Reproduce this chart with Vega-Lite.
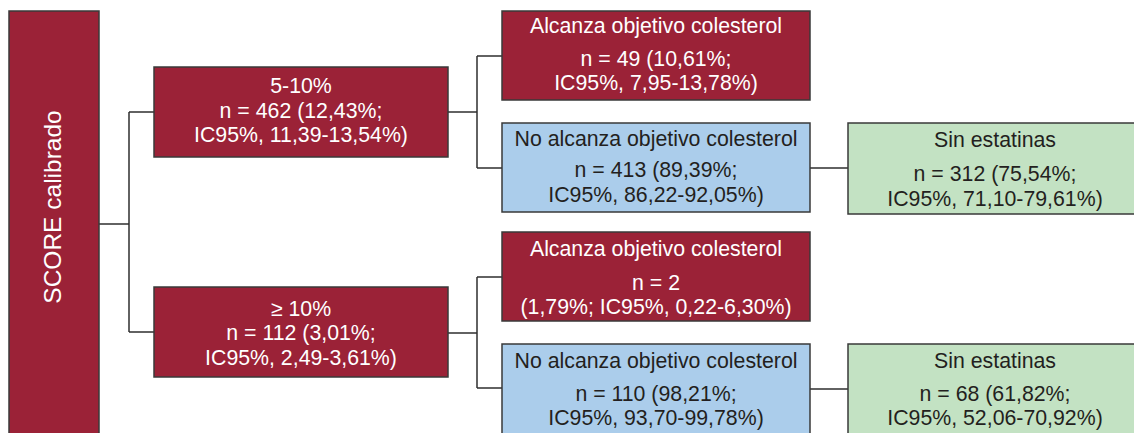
{
  "$schema": "https://vega.github.io/schema/vega-lite/v6.json",
  "width": 1134,
  "height": 433,
  "autosize": "none",
  "padding": 0,
  "background": "white",
  "config": {"view": {"stroke": null}},
  "datasets": {
    "cajas": [
      {"id": "score", "x1": 9, "x2": 99, "y1": 11, "y2": 440, "tipo": "rojo"},
      {"id": "r510", "x1": 154, "x2": 448, "y1": 67, "y2": 157, "tipo": "rojo"},
      {"id": "r10", "x1": 154, "x2": 448, "y1": 287, "y2": 377, "tipo": "rojo"},
      {"id": "alc1", "x1": 502, "x2": 810, "y1": 11, "y2": 100, "tipo": "rojo"},
      {"id": "noalc1", "x1": 502, "x2": 810, "y1": 123, "y2": 212, "tipo": "azul"},
      {"id": "sin1", "x1": 848, "x2": 1142, "y1": 123, "y2": 214, "tipo": "verde"},
      {"id": "alc2", "x1": 502, "x2": 810, "y1": 232, "y2": 321, "tipo": "rojo"},
      {"id": "noalc2", "x1": 502, "x2": 810, "y1": 344, "y2": 440, "tipo": "azul"},
      {"id": "sin2", "x1": 848, "x2": 1142, "y1": 344, "y2": 440, "tipo": "verde"}
    ],
    "conectores": [
      {"x1": 99, "x2": 129, "y1": 224, "y2": 224},
      {"x1": 129, "x2": 129, "y1": 112, "y2": 332},
      {"x1": 129, "x2": 154, "y1": 112, "y2": 112},
      {"x1": 129, "x2": 154, "y1": 332, "y2": 332},
      {"x1": 448, "x2": 477, "y1": 112, "y2": 112},
      {"x1": 477, "x2": 477, "y1": 56, "y2": 168},
      {"x1": 477, "x2": 502, "y1": 56, "y2": 56},
      {"x1": 477, "x2": 502, "y1": 168, "y2": 168},
      {"x1": 448, "x2": 477, "y1": 333, "y2": 333},
      {"x1": 477, "x2": 477, "y1": 277, "y2": 388},
      {"x1": 477, "x2": 502, "y1": 277, "y2": 277},
      {"x1": 477, "x2": 502, "y1": 388, "y2": 388},
      {"x1": 810, "x2": 848, "y1": 168, "y2": 168},
      {"x1": 810, "x2": 848, "y1": 389, "y2": 389}
    ],
    "textos": [
      {"x": 54, "y": 207, "texto": "SCORE calibrado", "tipo": "rojo", "rotado": true},
      {"x": 301, "y": 87, "texto": "5-10%\nn = 462 (12,43%;\nIC95%, 11,39-13,54%)", "tipo": "rojo", "rotado": false},
      {"x": 301, "y": 309.5, "texto": "≥ 10%\nn = 112 (3,01%;\nIC95%, 2,49-3,61%)", "tipo": "rojo", "rotado": false},
      {"x": 656, "y": 26.5, "texto": "Alcanza objetivo colesterol", "tipo": "rojo", "rotado": false},
      {"x": 656, "y": 59.5, "texto": "n = 49 (10,61%;\nIC95%, 7,95-13,78%)", "tipo": "rojo", "rotado": false},
      {"x": 656, "y": 139.5, "texto": "No alcanza objetivo colesterol", "tipo": "azul", "rotado": false},
      {"x": 656, "y": 171, "texto": "n = 413 (89,39%;\nIC95%, 86,22-92,05%)", "tipo": "azul", "rotado": false},
      {"x": 995, "y": 140.5, "texto": "Sin estatinas", "tipo": "verde", "rotado": false},
      {"x": 995, "y": 175, "texto": "n = 312 (75,54%;\nIC95%, 71,10-79,61%)", "tipo": "verde", "rotado": false},
      {"x": 656, "y": 249.5, "texto": "Alcanza objetivo colesterol", "tipo": "rojo", "rotado": false},
      {"x": 656, "y": 283.5, "texto": "n = 2\n(1,79%; IC95%, 0,22-6,30%)", "tipo": "rojo", "rotado": false},
      {"x": 656, "y": 361.5, "texto": "No alcanza objetivo colesterol", "tipo": "azul", "rotado": false},
      {"x": 656, "y": 394.5, "texto": "n = 110 (98,21%;\nIC95%, 93,70-99,78%)", "tipo": "azul", "rotado": false},
      {"x": 995, "y": 361.5, "texto": "Sin estatinas", "tipo": "verde", "rotado": false},
      {"x": 995, "y": 394.5, "texto": "n = 68 (61,82%;\nIC95%, 52,06-70,92%)", "tipo": "verde", "rotado": false}
    ]
  },
  "layer": [
    {
      "data": {"name": "conectores"},
      "mark": {"type": "rule", "color": "#2e2e2e", "strokeWidth": 1.5, "clip": true},
      "encoding": {
        "x": {"field": "x1", "type": "quantitative", "scale": {"domain": [0, 1134], "nice": false, "zero": false}, "axis": null},
        "x2": {"field": "x2"},
        "y": {"field": "y1", "type": "quantitative", "scale": {"domain": [0, 433], "nice": false, "zero": false, "reverse": true}, "axis": null},
        "y2": {"field": "y2"}
      }
    },
    {
      "data": {"name": "cajas"},
      "mark": {"type": "rect", "stroke": "#3a3a3a", "strokeWidth": 1.5, "clip": true},
      "encoding": {
        "x": {"field": "x1", "type": "quantitative", "scale": {"domain": [0, 1134], "nice": false, "zero": false}, "axis": null},
        "x2": {"field": "x2"},
        "y": {"field": "y1", "type": "quantitative", "scale": {"domain": [0, 433], "nice": false, "zero": false, "reverse": true}, "axis": null},
        "y2": {"field": "y2"},
        "fill": {"field": "tipo", "type": "nominal", "scale": {"domain": ["rojo", "azul", "verde"], "range": ["#9b2237", "#abcdeb", "#c3e2c3"]}, "legend": null}
      }
    },
    {
      "data": {"name": "textos"},
      "transform": [{"filter": "!datum.rotado"}],
      "mark": {"type": "text", "font": "Liberation Sans", "fontSize": 21.3, "align": "center", "baseline": "middle", "lineBreak": "\n", "lineHeight": 24.5},
      "encoding": {
        "x": {"field": "x", "type": "quantitative", "scale": {"domain": [0, 1134], "nice": false, "zero": false}, "axis": null},
        "y": {"field": "y", "type": "quantitative", "scale": {"domain": [0, 433], "nice": false, "zero": false, "reverse": true}, "axis": null},
        "text": {"field": "texto"},
        "color": {"condition": {"test": "datum.tipo === 'rojo'", "value": "#ffffff"}, "value": "#231f20"}
      }
    },
    {
      "data": {"name": "textos"},
      "transform": [{"filter": "datum.rotado"}],
      "mark": {"type": "text", "font": "Liberation Sans", "fontSize": 24.5, "align": "center", "baseline": "middle", "angle": 270, "color": "#ffffff"},
      "encoding": {
        "x": {"field": "x", "type": "quantitative", "scale": {"domain": [0, 1134], "nice": false, "zero": false}, "axis": null},
        "y": {"field": "y", "type": "quantitative", "scale": {"domain": [0, 433], "nice": false, "zero": false, "reverse": true}, "axis": null},
        "text": {"field": "texto"}
      }
    }
  ]
}
